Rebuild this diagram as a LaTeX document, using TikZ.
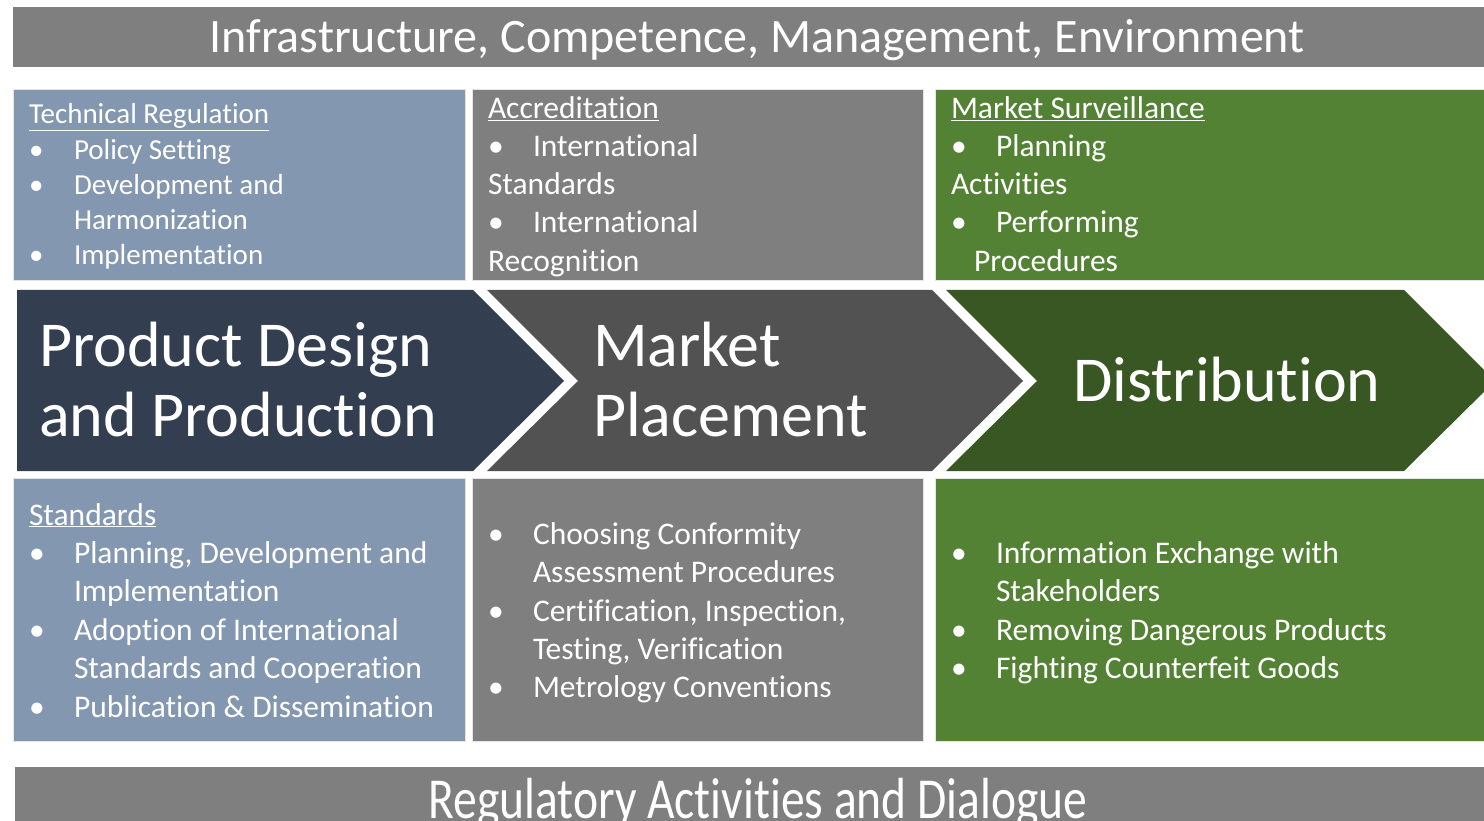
\documentclass[tikz,border=0pt]{standalone}
\usepackage{fontspec}
\setmainfont[Ligatures=NoCommon]{Carlito}
\definecolor{bandgray}{HTML}{7F7F7F}
\definecolor{lblue}{HTML}{8497B0}
\definecolor{mgray}{HTML}{7F7F7F}
\definecolor{lgreen}{HTML}{548235}
\definecolor{navy}{HTML}{333F50}
\definecolor{dgray}{HTML}{525252}
\definecolor{dgreen}{HTML}{385723}
\begin{document}
\begin{tikzpicture}[x=1pt,y=-1pt,
  panel/.style={anchor=north west, inner sep=0, outer sep=0, draw=white!80!gray, line width=0.8pt},
  txt/.style={anchor=base west, inner sep=0, outer sep=0, text=white},
  small/.style={txt, font=\fontsize{29}{35}\selectfont},
  med/.style={txt, font=\fontsize{31.5}{38}\selectfont},
  big/.style={txt, font=\fontsize{64}{71}\selectfont},
  band/.style={anchor=base, inner sep=0, outer sep=0, text=white, font=\fontsize{48}{56}\selectfont}
]
\useasboundingbox (0,0) rectangle (1484,821);
% bands
\node[panel, draw=none, fill=bandgray, minimum width=1471, minimum height=60] (topband) at (13,7) {};
\node[band] (toptext) at (757,53) {Infrastructure, Competence, Management, Environment};
\node[panel, draw=none, fill=bandgray, minimum width=1469, minimum height=60] (botband) at (15,767) {};
\node[band, font=\fontsize{58}{64}\selectfont, xscale=0.82] (bottext) at (758,818) {Regulatory Activities and Dialogue};
% top panels
\node[panel, fill=lblue, minimum width=452, minimum height=191] (p1) at (13,89) {};
\node[panel, fill=mgray, minimum width=451, minimum height=191] (p2) at (472,89) {};
\node[panel, fill=lgreen, minimum width=552, minimum height=191] (p3) at (935,89) {};
% bottom panels
\node[panel, fill=lblue, minimum width=452, minimum height=263] (p4) at (13,478) {};
\node[panel, fill=mgray, minimum width=451, minimum height=263] (p5) at (472,478) {};
\node[panel, fill=lgreen, minimum width=552, minimum height=263] (p6) at (935,478) {};
% chevrons
\fill[navy] (17,290) -- (473,290) -- (564,381) -- (473,471) -- (17,471) -- cycle;
\fill[dgray] (487,290) -- (932,290) -- (1023,381) -- (932,471) -- (487,471) -- (578,381) -- cycle;
\fill[dgreen] (946,290) -- (1404,290) -- (1495,381) -- (1404,471) -- (946,471) -- (1037,381) -- cycle;
\node[big] (c1a) at (39,366) {Product Design};
\node[big] (c1b) at (39,436) {and Production};
\node[big] (c2a) at (593,366) {Market};
\node[big] (c2b) at (593,436) {Placement};
\node[big] (c3a) at (1073,401) {Distribution};
% panel 1
\node[small] (a0) at (29,124) {\underline{Technical Regulation}};
\node[small] (a1b) at (29,160) {•};
\node[small] (a1) at (74,160) {Policy Setting};
\node[small] (a2b) at (29,195) {•};
\node[small] (a2) at (74,195) {Development and};
\node[small] (a3) at (74,230) {Harmonization};
\node[small] (a4b) at (29,265) {•};
\node[small] (a4) at (74,265) {Implementation};
% panel 2
\node[med] (b0) at (488,119) {\underline{Accreditation}};
\node[med] (b1b) at (488,157) {•};
\node[med] (b1) at (533,157) {International};
\node[med] (b2) at (488,195) {Standards};
\node[med] (b3b) at (488,233) {•};
\node[med] (b3) at (533,233) {International};
\node[med] (b4) at (488,272) {Recognition};
% panel 3
\node[med] (m0) at (951,119) {\underline{Market Surveillance}};
\node[med] (m1b) at (951,157) {•};
\node[med] (m1) at (996,157) {Planning};
\node[med] (m2) at (951,195) {Activities};
\node[med] (m3b) at (951,233) {•};
\node[med] (m3) at (996,233) {Performing};
\node[med] (m4) at (974,272) {Procedures};
% panel 4
\node[med] (s0) at (29,525) {\underline{Standards}};
\node[med] (s1b) at (29,563) {•};
\node[med] (s1) at (74,563) {Planning, Development and};
\node[med] (s2) at (74,601) {Implementation};
\node[med] (s3b) at (29,640) {•};
\node[med] (s3) at (74,640) {Adoption of International};
\node[med] (s4) at (74,678) {Standards and Cooperation};
\node[med] (s5b) at (29,717) {•};
\node[med] (s5) at (74,717) {Publication \& Dissemination};
% panel 5
\node[med] (c1x) at (488,544) {•};
\node[med] (c1) at (533,544) {Choosing Conformity};
\node[med] (c2) at (533,582) {Assessment Procedures};
\node[med] (c3x) at (488,621) {•};
\node[med] (c3) at (533,621) {Certification, Inspection,};
\node[med] (c4) at (533,659) {Testing, Verification};
\node[med] (c5x) at (488,697) {•};
\node[med] (c5) at (533,697) {Metrology Conventions};
% panel 6
\node[med] (d1x) at (951,563) {•};
\node[med] (d1) at (996,563) {Information Exchange with};
\node[med] (d2) at (996,601) {Stakeholders};
\node[med] (d3x) at (951,640) {•};
\node[med] (d3) at (996,640) {Removing Dangerous Products};
\node[med] (d4x) at (951,678) {•};
\node[med] (d4) at (996,678) {Fighting Counterfeit Goods};
\end{tikzpicture}
\end{document}
